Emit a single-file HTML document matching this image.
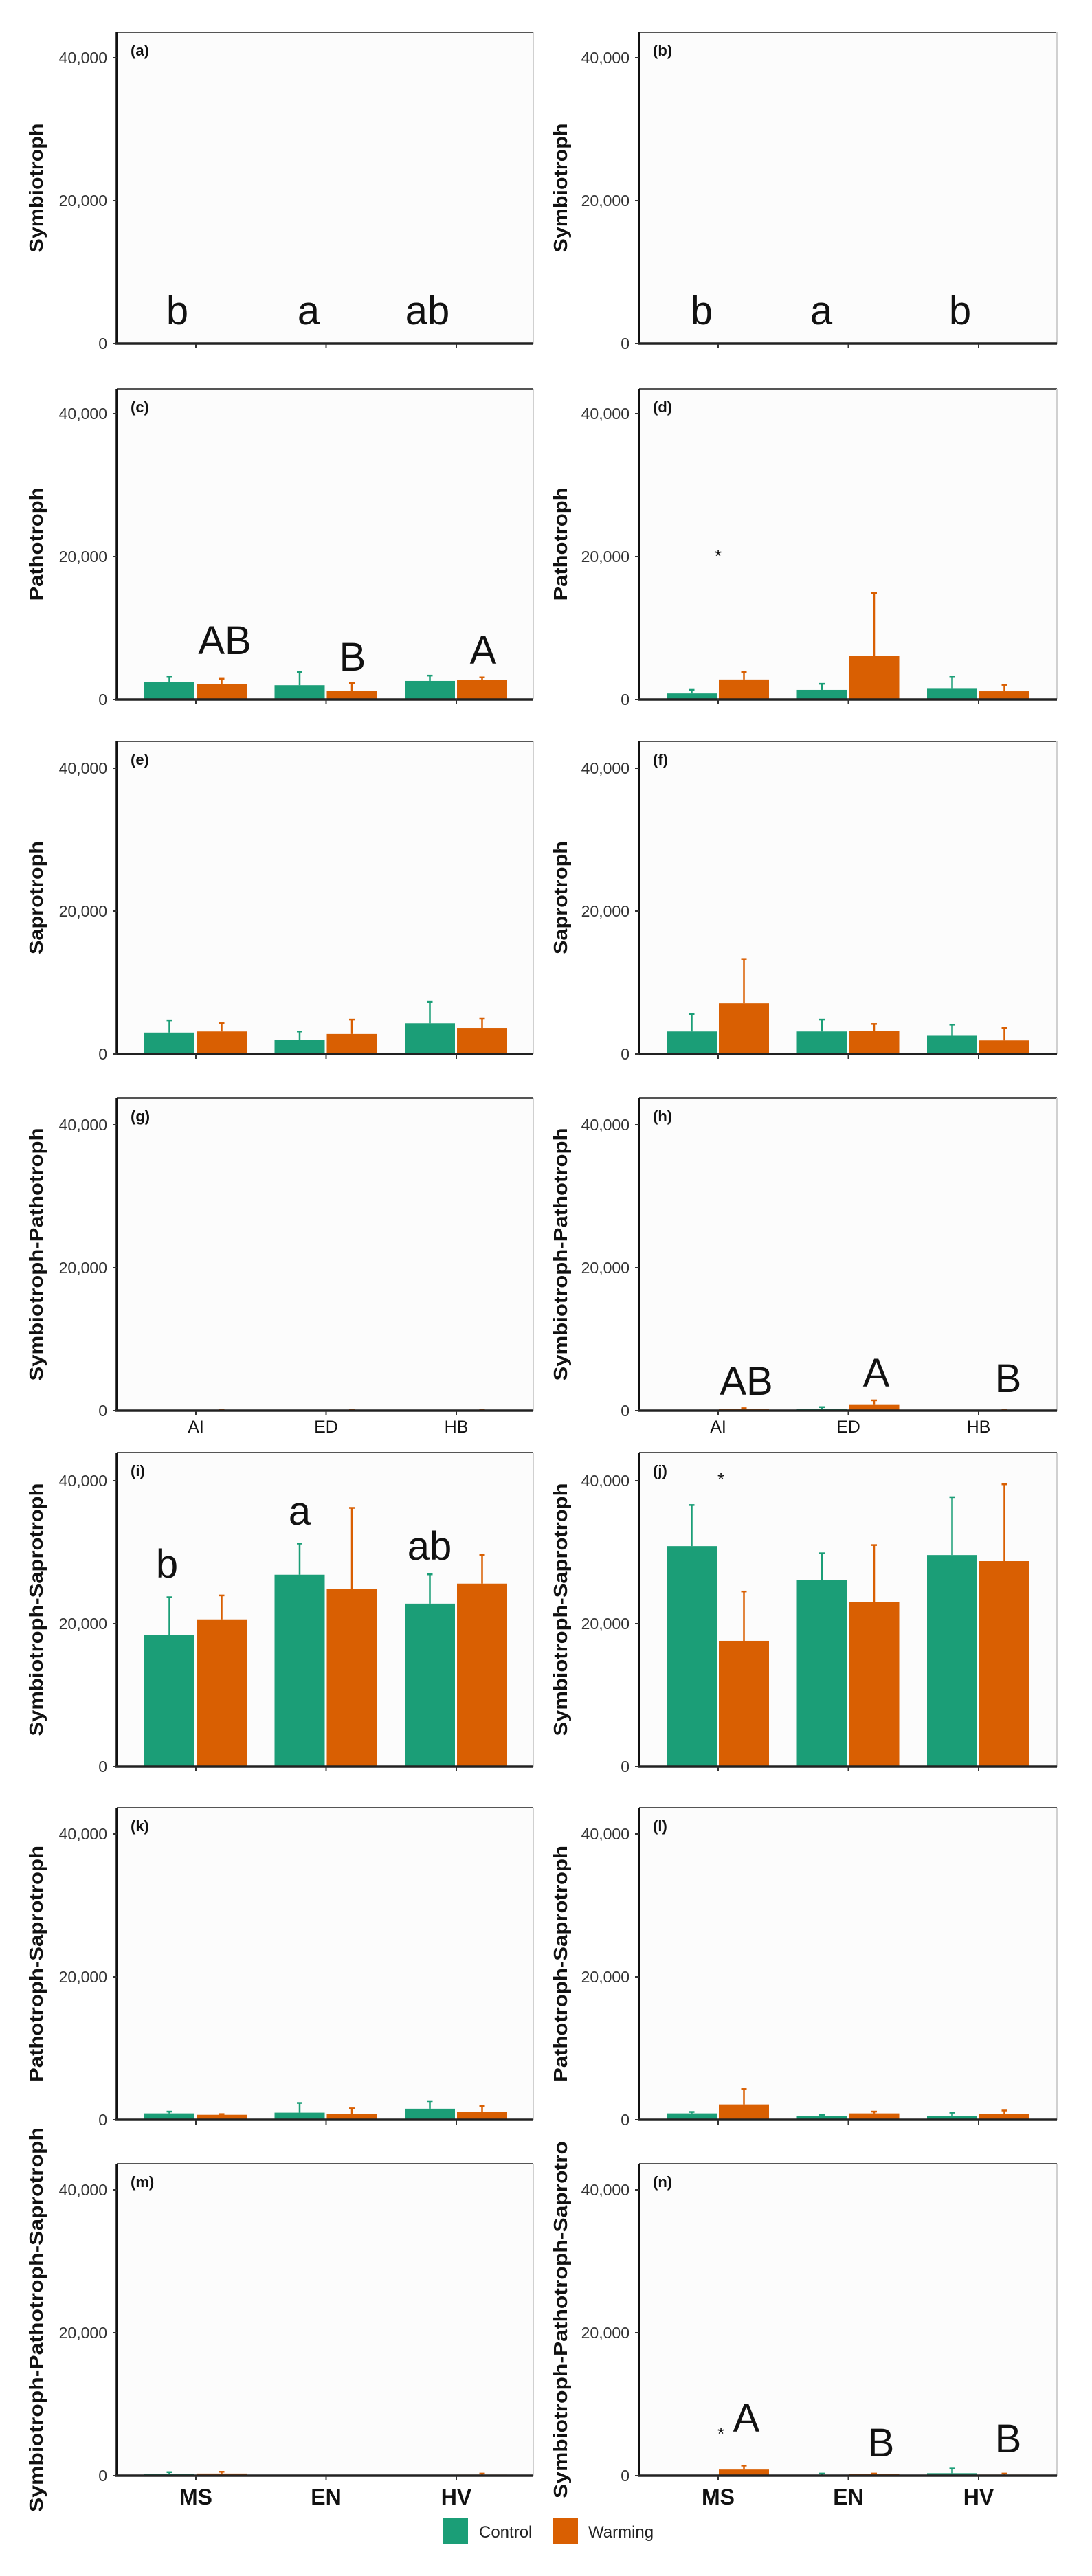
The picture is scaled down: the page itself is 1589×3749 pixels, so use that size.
<!DOCTYPE html>
<html><head><meta charset="utf-8">
<style>
html,body{margin:0;padding:0;background:#fff;}
svg{display:block;font-family:"Liberation Sans",sans-serif;}
</style></head>
<body>
<svg id="chart" width="1589" height="3749" viewBox="0 0 1589 3749" xmlns="http://www.w3.org/2000/svg"></svg>
<script>
// ---------- data ----------
const catsTop = ["AI","ED","HB"];
const catsBottom = ["MS","EN","HV"];
const yTicks = [0, 20000, 40000];
const yTickLabels = ["0","20,000","40,000"];
const seriesNames = ["Control","Warming"];

// (a) Symbiotroph
const cA=[0,0,0], wA=[0,0,0], ceA=[0,0,0], weA=[0,0,0];
const cB=[0,0,0], wB=[0,0,0], ceB=[0,0,0], weB=[0,0,0];
// Pathotroph
const cC=[2450,2000,2600], wC=[2200,1250,2700], ceC=[3150,3850,3350], weC=[2900,2300,3100];
const cD=[850,1350,1500], wD=[2800,6150,1150], ceD=[1350,2200,3150], weD=[3850,14900,2050];
// Saprotroph
const cE=[3000,2000,4300], wE=[3150,2800,3650], ceE=[4700,3150,7300], weE=[4300,4800,5000];
const cF=[3150,3150,2550], wF=[7100,3250,1900], ceF=[5600,4800,4100], weF=[13300,4200,3650];
// Symbiotroph-Pathotroph
const cG=[40,40,40], wG=[120,120,120], ceG=[40,40,40], weG=[150,150,150];
const cH=[100,250,100], wH=[200,800,100], ceH=[100,500,100], weH=[350,1450,150];
// Symbiotroph-Saprotroph
const cI=[18450,26850,22800], wI=[20600,24900,25600], ceI=[23700,31200,26900], weI=[23950,36200,29600];
const cJ=[30850,26150,29600], wJ=[17600,23000,28750], ceJ=[36600,29850,37700], weJ=[24500,31000,39500];
// Pathotroph-Saprotroph
const cK=[900,1000,1550], wK=[700,800,1150], ceK=[1150,2350,2600], weK=[800,1600,1900];
const cL=[900,500,500], wL=[2150,900,800], ceL=[1100,700,1000], weL=[4300,1150,1300];
// Symbiotroph-Pathotroph-Saprotroph
const cM=[250,80,80], wM=[300,80,150], ceM=[500,80,80], weM=[550,80,300];
const cN=[80,100,350], wN=[850,250,150], ceN=[80,300,1000], weN=[1400,300,300];

// ---------- layout ----------
const NS="http://www.w3.org/2000/svg";
const svg=document.getElementById('chart');
const GREEN="#1b9e77", ORANGE="#d95f02";
const rows=[{top:47,zero:500},{top:566,zero:1018},{top:1079,zero:1534},{top:1598,zero:2053},{top:2114,zero:2571},{top:2631,zero:3085},{top:3149,zero:3603}];
const cols=[{axis:170,right:776,titleX:52,tag:"left"},{axis:930,right:1538,titleX:815,tag:"right"}];
const PX_PER=208/20000;

function mk(tag,attrs,parent){const e=document.createElementNS(NS,tag);for(const k in attrs)e.setAttribute(k,attrs[k]);(parent||svg).appendChild(e);return e;}

const panels=[
 {id:"a",row:0,col:0,title:"Symbiotroph",tl:188,c:cA,w:wA,ce:ceA,we:weA,letters:[["b",258,472],["a",449,472],["ab",622,472]]},
 {id:"b",row:0,col:1,title:"Symbiotroph",tl:188,c:cB,w:wB,ce:ceB,we:weB,letters:[["b",1021,472],["a",1195,472],["b",1397,472]]},
 {id:"c",row:1,col:0,title:"Pathotroph",tl:165,c:cC,w:wC,ce:ceC,we:weC,letters:[["AB",327,952],["B",513,976],["A",703,966]]},
 {id:"d",row:1,col:1,title:"Pathotroph",tl:165,c:cD,w:wD,ce:ceD,we:weD,letters:[],stars:[[1045,818]]},
 {id:"e",row:2,col:0,title:"Saprotroph",tl:165,c:cE,w:wE,ce:ceE,we:weE,letters:[]},
 {id:"f",row:2,col:1,title:"Saprotroph",tl:165,c:cF,w:wF,ce:ceF,we:weF,letters:[]},
 {id:"g",row:3,col:0,title:"Symbiotroph-Pathotroph",tl:368,c:cG,w:wG,ce:ceG,we:weG,letters:[],xl:catsTop},
 {id:"h",row:3,col:1,title:"Symbiotroph-Pathotroph",tl:368,c:cH,w:wH,ce:ceH,we:weH,letters:[["AB",1086,2030],["A",1275,2018],["B",1467,2026]],xl:catsTop},
 {id:"i",row:4,col:0,title:"Symbiotroph-Saprotroph",tl:368,c:cI,w:wI,ce:ceI,we:weI,letters:[["b",243,2296],["a",436,2219],["ab",625,2270]]},
 {id:"j",row:4,col:1,title:"Symbiotroph-Saprotroph",tl:368,c:cJ,w:wJ,ce:ceJ,we:weJ,letters:[],stars:[[1049,2162]]},
 {id:"k",row:5,col:0,title:"Pathotroph-Saprotroph",tl:344,c:cK,w:wK,ce:ceK,we:weK,letters:[]},
 {id:"l",row:5,col:1,title:"Pathotroph-Saprotroph",tl:344,c:cL,w:wL,ce:ceL,we:weL,letters:[]},
 {id:"m",row:6,col:0,title:"Symbiotroph-Pathotroph-Saprotroph",tl:560,c:cM,w:wM,ce:ceM,we:weM,letters:[],xl:catsBottom,bold:true},
 {id:"n",row:6,col:1,title:"Symbiotroph-Pathotroph-Saprotro",tl:520,c:cN,w:wN,ce:ceN,we:weN,letters:[["A",1086,3539],["B",1282,3575],["B",1467,3569]],stars:[[1049,3551]],xl:catsBottom,bold:true}
];

panels.forEach(p=>{
  const R=rows[p.row], C=cols[p.col];
  const y=v=>R.zero-v*PX_PER;
  const x=i=>C.axis+115+189.5*i;
  const g=mk('g',{});
  
  
  const bg=mk('rect',{x:C.axis,y:R.top,width:C.right-C.axis,height:R.zero-R.top,fill:"#fcfcfc"},g);
  
  
  mk('line',{x1:C.axis,y1:R.top,x2:C.right,y2:R.top,stroke:"#555","stroke-width":2},g);
  mk('line',{x1:C.right,y1:R.top,x2:C.right,y2:R.zero,stroke:"#d0d0d0","stroke-width":2},g);
  // bars
  for(let i=0;i<3;i++){
    const xc=x(i);
    [[p.c,p.ce,GREEN,xc-75,'control'],[p.w,p.we,ORANGE,xc+1,'warming']].forEach(([vals,errs,col,bx,nm])=>{
      const v=vals[i], e=errs[i];
      const h=Math.max(0,R.zero-y(v));
      const r=mk('rect',{x:bx,y:y(v),width:73,height:h,fill:col},g);
      
      
      if(e>v){
        const cx=bx+36.5;
        const el=mk('line',{x1:cx,y1:y(v),x2:cx,y2:y(e),stroke:col,"stroke-width":2.5},g);
        
        
        mk('line',{x1:cx-4,y1:y(e),x2:cx+4,y2:y(e),stroke:col,"stroke-width":2.5},g);
      }
    });
  }
  // axes
  mk('line',{x1:C.axis,y1:R.top,x2:C.axis,y2:R.zero+1,stroke:"#111","stroke-width":3.5},g);
  mk('line',{x1:C.axis-2,y1:R.zero,x2:C.right,y2:R.zero,stroke:"#222","stroke-width":3.5},g);
  yTicks.forEach((t,k)=>{
    mk('line',{x1:C.axis-6,y1:y(t),x2:C.axis,y2:y(t),stroke:"#333","stroke-width":2},g);
    const tx=mk('text',{x:C.axis-14,y:y(t)+8,"text-anchor":"end","font-size":23,fill:"#333"},g);
    tx.textContent=yTickLabels[k];
    
    
  });
  for(let i=0;i<3;i++) mk('line',{x1:x(i),y1:R.zero,x2:x(i),y2:R.zero+7,stroke:"#333","stroke-width":2},g);
  if(p.xl){
    p.xl.forEach((lab,i)=>{
      const bold=!!p.bold;
      const t=mk('text',{x:x(i),y:R.zero+(bold?42:32),"text-anchor":"middle","font-size":bold?32:25,"font-weight":bold?"bold":"normal",fill:"#111"},g);
      t.textContent=lab;
      
      
    });
  }
  // title
  const cy=(R.top+R.zero)/2;
  const tt=mk('text',{x:C.titleX,y:cy,"text-anchor":"middle","font-size":28,"font-weight":"bold",fill:"#111",transform:`rotate(-90 ${C.titleX} ${cy}) translate(0 10)`,textLength:p.tl,lengthAdjust:"spacingAndGlyphs"},g);
  tt.textContent=p.title;
  
  
  // tag
  const tg=mk('text',{x:C.axis+20,y:R.top+34,"font-size":22,"font-weight":"bold",fill:"#111"},g);
  tg.textContent='('+p.id+')';
  
  
  // letters
  p.letters.forEach(([s,lx,ly])=>{
    const t=mk('text',{x:lx,y:ly,"text-anchor":"middle","font-size":58,fill:"#111"},g);
    t.textContent=s;
    
    
  });
  (p.stars||[]).forEach(([sx,sy])=>{
    const t=mk('text',{x:sx,y:sy,"text-anchor":"middle","font-size":26,fill:"#111"},g);
    t.textContent='*';
    
    
  });
});

// legend
const lg=mk('g',{});


[[GREEN,645,697],[ORANGE,805,856]].forEach(([col,sx,tx],k)=>{
  const r=mk('rect',{x:sx,y:3664,width:36,height:39,fill:col},lg);
  
  
  const t=mk('text',{x:tx,y:3693,"font-size":24,fill:"#222"},lg);
  t.textContent=seriesNames[k];
  
  
});
</script>
</body></html>
